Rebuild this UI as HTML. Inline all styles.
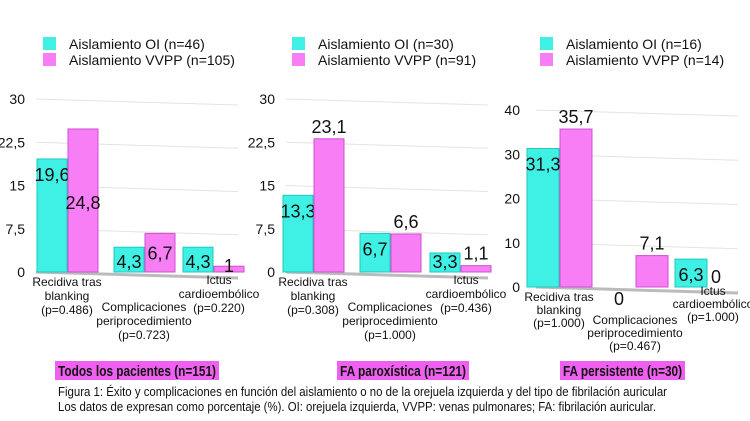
<!DOCTYPE html>
<html><head><meta charset="utf-8"><style>
body{margin:0;background:#fff;width:750px;height:416px;overflow:hidden;font-family:"Liberation Sans",sans-serif}
svg text{font-family:"Liberation Sans",sans-serif}
</style></head><body>
<svg id="c" width="750" height="416" xmlns="http://www.w3.org/2000/svg"></svg>
<script>
const categories=["Recidiva tras|blanking","Complicaciones|periprocedimiento","Ictus|cardioembólico"];
const panelTitles=["Todos los pacientes (n=151)","FA paroxística (n=121)","FA persistente (n=30)"];
const legendOI=["Aislamiento OI (n=46)","Aislamiento OI (n=30)","Aislamiento OI (n=16)"];
const legendVVPP=["Aislamiento VVPP (n=105)","Aislamiento VVPP (n=91)","Aislamiento VVPP (n=14)"];
const pValues=[["0.486","0.723","0.220"],["0.308","1.000","0.436"],["1.000","0.467","1.000"]];
const seriesOI=[[19.6,4.3,4.3],[13.3,6.7,3.3],[31.3,0,6.3]];
const seriesVVPP=[[24.8,6.7,1],[23.1,6.6,1.1],[35.7,7.1,0]];
const yTicks1=["0","7,5","15","22,5","30"];
const yTickVals1=[0,7.5,15,22.5,30];
const yTicks3=["0","10","20","30","40"];
const yTickVals3=[0,10,20,30,40];

const svg=document.getElementById('c');
const NS="http://www.w3.org/2000/svg";
function el(tag,attrs,parent){const e=document.createElementNS(NS,tag);for(const k in attrs)e.setAttribute(k,attrs[k]);(parent||svg).appendChild(e);return e;}
function fmt(v){return String(v).replace('.',',');}

const panels=[
 {x0:28,base:272,top:99,max:30,ticks:yTicks1,tv:yTickVals1,lx:25,groups:[37,114,183],bw:30,leg:43,title:[55,219],pinkInside:true,ly:[14,39,12],ls:14},
 {x0:278,base:272,top:99,max:30,ticks:yTicks1,tv:yTickVals1,lx:275,groups:[283,360,430],bw:30,leg:292,title:[337,469],pinkInside:false,ly:[14,39,12],ls:14},
 {x0:528,base:287,top:110,max:40,ticks:yTicks3,tv:yTickVals3,lx:520,groups:[527,603,675],bw:32,leg:540,title:[560,685],pinkInside:false,ly:[14,37,8],ls:13}
];

panels.forEach((p,pi)=>{
  const g=el('g',{});
  
  
  const y=v=>p.base-(v/p.max)*(p.base-p.top);
  p.tv.forEach((t,i)=>{
    const ln=el('line',{x1:p.x0+8,x2:p.x0+210,y1:y(t),y2:y(t)+6,stroke:i===0?'#bbb':'#e3e3e3','stroke-width':i===0?3:1},g);
    
    
    const tx=el('text',{x:p.lx,y:y(t)+5,'text-anchor':'end','font-size':14,fill:'#111'},g);
    tx.textContent=p.ticks[i];
    
    
  });
  for(let c=0;c<3;c++){
    const gx=p.groups[c];
    const vals=[seriesOI[pi][c],seriesVVPP[pi][c]];
    vals.forEach((v,s)=>{
      const bx=gx+s*(p.bw+1);
      const h=p.base-y(v);
      if(v>0){
        const r=el('rect',{x:bx,y:y(v),width:p.bw,height:h,fill:s?'#f77ef5':'#3ff0e4',stroke:s?'#d050cf':'#22c8bd','stroke-width':1},g);
        
        
      }
      let ly,lx=bx+p.bw/2;
      if(s===0) ly=Math.min(y(v)+22,p.base-4);
      else if(p.pinkInside) ly=(c===0)?y(v)+80:Math.min(y(v)+26,p.base);
      else ly=y(v)-6;
      if(v===0&&s===0){ly=p.base+18;}
      if(v===0&&s===1){ly=p.base-4;lx=bx+8;}
      const lt=el('text',{x:lx,y:ly,'text-anchor':'middle','font-size':18,fill:'#111'},g);
      lt.textContent=fmt(v);
      
      
    });
    const lines=categories[c].split('|').concat(['(p='+pValues[pi][c]+')']);
    const cx=gx+p.bw+(c===2?6:0);
    const ty=p.base+p.ly[c];
    const ct=el('text',{'font-size':12,fill:'#111','text-anchor':'middle'},g);
    
    
    lines.forEach((l,i)=>{const ts=el('tspan',{x:cx,y:ty+i*p.ls},ct);ts.textContent=l;});
  }
  [[legendOI[pi],'#3ff0e4',37],[legendVVPP[pi],'#f77ef5',53]].forEach(([t,col,ly])=>{
    const sq=el('rect',{x:p.leg,y:ly,width:13,height:13,fill:col},g);
    
    
    const lt=el('text',{x:p.leg+26,y:ly+12,'font-size':14,fill:'#111'},g);
    lt.textContent=t;
    
    
  });
  const tw=p.title[1]-p.title[0];
  const tb=el('rect',{x:p.title[0],y:361,width:tw,height:19,fill:'#f060f0'},g);
  
  
  const tt=el('text',{x:p.title[0]+3,y:376,'font-size':15,'font-weight':'bold',fill:'#111',textLength:tw-6,lengthAdjust:'spacingAndGlyphs'},g);
  tt.textContent=panelTitles[pi];
  
  
});
const cap=el('text',{x:58,y:396,'font-size':12.5,fill:'#111'});


[["Figura 1: Éxito y complicaciones en función del aislamiento o no de la orejuela izquierda y del tipo de fibrilación auricular",0,609],["Los datos de expresan como porcentaje (%). OI: orejuela izquierda, VVPP: venas pulmonares; FA: fibrilación auricular.",15,598]].forEach(([t,d,w])=>{const ts=el('tspan',{x:58,y:396+d,textLength:w,lengthAdjust:'spacingAndGlyphs'},cap);ts.textContent=t;});
</script>
</body></html>
